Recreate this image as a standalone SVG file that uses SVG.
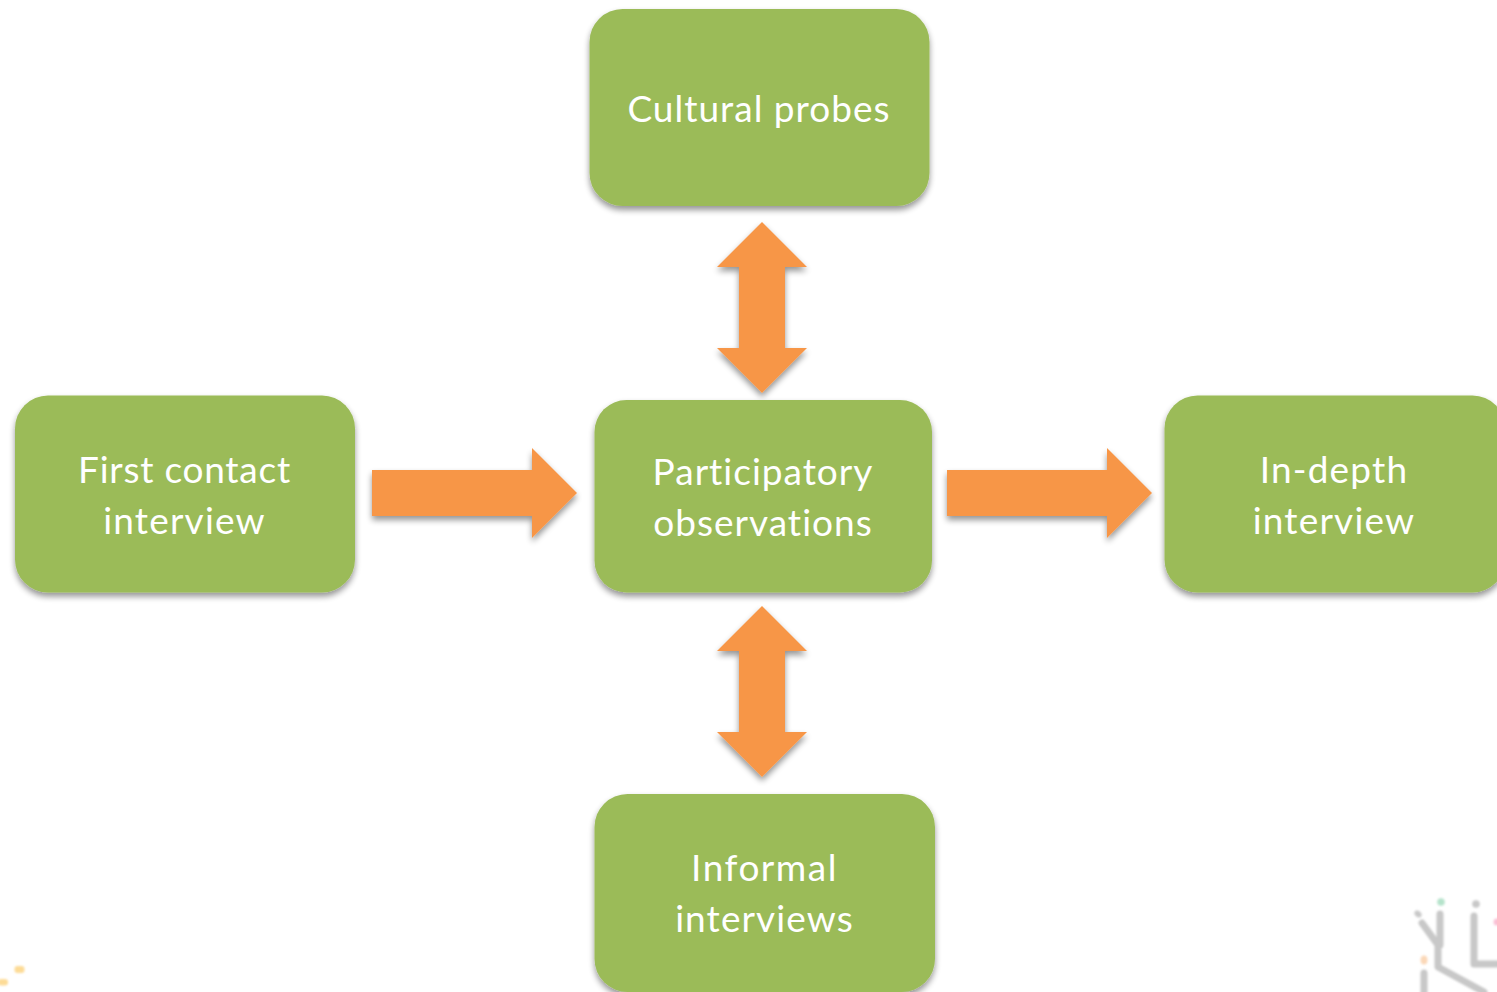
<svg xmlns="http://www.w3.org/2000/svg" width="1497" height="992" viewBox="0 0 1497 992">
<defs>
<filter id="sh" x="-10%" y="-10%" width="120%" height="125%"><feGaussianBlur in="SourceAlpha" stdDeviation="3"/><feOffset dx="0" dy="4"/><feComponentTransfer><feFuncA type="linear" slope="0.42"/></feComponentTransfer><feMerge><feMergeNode/><feMergeNode in="SourceGraphic"/></feMerge></filter>
<filter id="b1" x="-50%" y="-50%" width="200%" height="200%"><feGaussianBlur stdDeviation="1"/></filter>
</defs>
<style>
.box{fill:#9BBB59;filter:url(#sh)}
.arr{fill:#F79646;filter:url(#sh)}
text{font-family:"Lato","Liberation Sans",sans-serif;font-size:37px;letter-spacing:1px;fill:#fff;text-anchor:middle}
.lg{fill:none;stroke:#c8c8c8;stroke-width:7;stroke-linecap:round;stroke-linejoin:round;filter:url(#b1)}
</style>
<rect width="1497" height="992" fill="#fff"/>
<g id="decor">
<path class="lg" d="M1422 923L1438 945V967L1484 992M1440 914V945M1474 916V964H1500M1424 973V996"/>
<circle cx="1441" cy="902" r="3.800" fill="#b5e3cb" filter="url(#b1)"/>
<circle cx="1476" cy="904" r="3.800" fill="#c8c8c8" filter="url(#b1)"/>
<ellipse cx="1418" cy="914" rx="4" ry="3" fill="#c8c8c8" filter="url(#b1)" transform="rotate(40 1418 914)"/>
<ellipse cx="1424" cy="960" rx="3.500" ry="4.500" fill="#fbd8b8" filter="url(#b1)"/>
<circle cx="1497" cy="922" r="3.500" fill="#f9c0d4" filter="url(#b1)"/>
<rect x="14.500" y="966" width="10" height="7" rx="3" fill="#fddb96" filter="url(#b1)"/>
<rect x="-2" y="979" width="10" height="6.500" rx="3" fill="#fddb96" filter="url(#b1)"/>
</g>
<g id="connectors">
<path class="arr" d="M372 470H532V448L577 493L532 538V516H372Z"/>
<path class="arr" d="M947 470H1107V448L1152 493L1107 538V516H947Z"/>
<path class="arr" d="M762 222L807 267H785V348H807L762 393L717 348H739V267H717Z"/>
<path class="arr" d="M762 606L807 651H785V732H807L762 777L717 732H739V651H717Z"/>
</g>
<g id="cultural"><rect class="box" x="589.500" y="9" width="340" height="197" rx="33"/><text x="759" y="122">Cultural probes</text></g>
<g id="first"><rect class="box" x="15" y="395.500" width="340" height="197" rx="33"/><text x="184.500" y="483" style="letter-spacing:.75px">First contact</text><text x="184.500" y="534" style="letter-spacing:1.2px">interview</text></g>
<g id="participatory"><rect class="box" x="594.500" y="400" width="337.500" height="192.500" rx="32"/><text x="763" y="485">Participatory</text><text x="763" y="536">observations</text></g>
<g id="indepth"><rect class="box" x="1164.500" y="395.500" width="341" height="197" rx="33"/><text x="1334" y="483" style="letter-spacing:1.2px">In-depth</text><text x="1334" y="534" style="letter-spacing:1.2px">interview</text></g>
<g id="informal"><rect class="box" x="594.500" y="794" width="340.500" height="198" rx="33"/><text x="764.500" y="881" style="letter-spacing:1.5px">Informal</text><text x="764.500" y="932" style="letter-spacing:1.1px">interviews</text></g>
</svg>
